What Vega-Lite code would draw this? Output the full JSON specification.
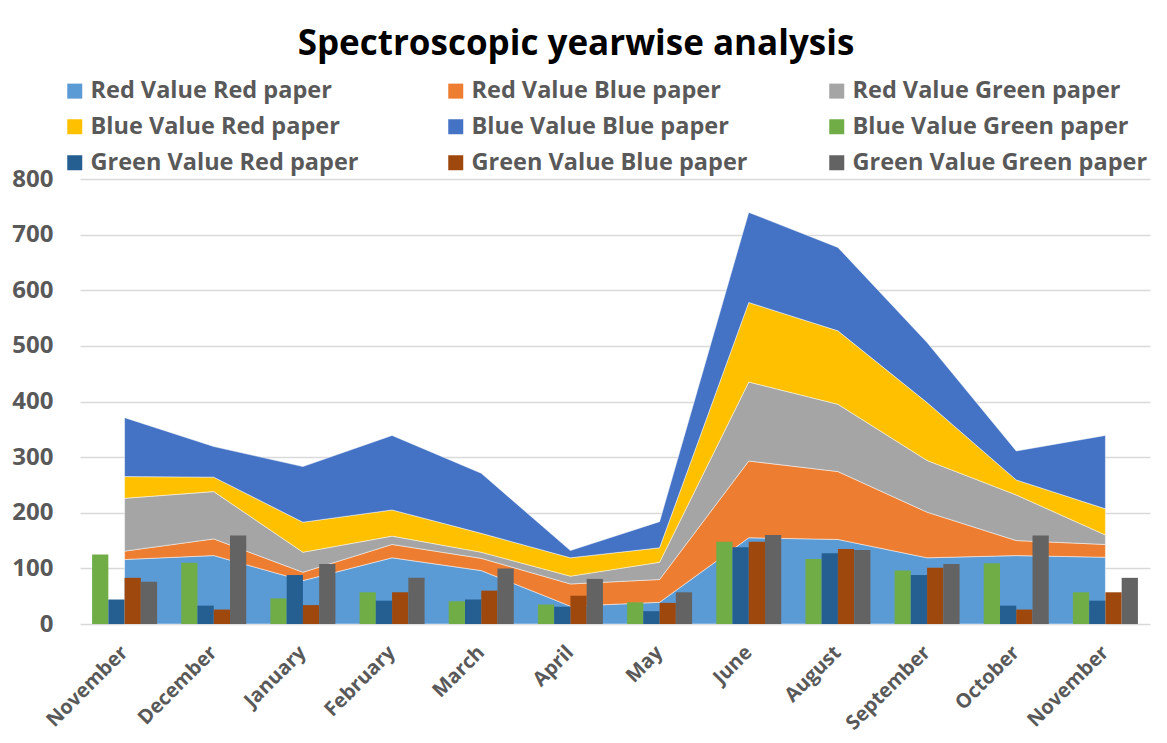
{
  "$schema": "https://vega.github.io/schema/vega-lite/v6.json",
  "width": 1070,
  "height": 445,
  "autosize": {"type": "none"},
  "padding": {"left": 80, "top": 179, "right": 17, "bottom": 119},
  "background": "#ffffff",
  "title": {
    "text": "Spectroscopic yearwise analysis",
    "font": "Open Sans",
    "fontSize": 35,
    "fontWeight": "bold",
    "color": "#000000",
    "anchor": "middle",
    "frame": "group",
    "baseline": "alphabetic",
    "offset": -11,
    "dx": -39
  },
  "datasets": {
    "areas": [
      {"m": "01 November", "s": "Red Value Red paper", "k": 1, "v": 116},
      {"m": "01 November", "s": "Red Value Blue paper", "k": 2, "v": 15},
      {"m": "01 November", "s": "Red Value Green paper", "k": 3, "v": 95},
      {"m": "01 November", "s": "Blue Value Red paper", "k": 4, "v": 39},
      {"m": "01 November", "s": "Blue Value Blue paper", "k": 5, "v": 106},
      {"m": "02 December", "s": "Red Value Red paper", "k": 1, "v": 123},
      {"m": "02 December", "s": "Red Value Blue paper", "k": 2, "v": 30},
      {"m": "02 December", "s": "Red Value Green paper", "k": 3, "v": 85},
      {"m": "02 December", "s": "Blue Value Red paper", "k": 4, "v": 26},
      {"m": "02 December", "s": "Blue Value Blue paper", "k": 5, "v": 55},
      {"m": "03 January", "s": "Red Value Red paper", "k": 1, "v": 78},
      {"m": "03 January", "s": "Red Value Blue paper", "k": 2, "v": 15},
      {"m": "03 January", "s": "Red Value Green paper", "k": 3, "v": 36},
      {"m": "03 January", "s": "Blue Value Red paper", "k": 4, "v": 54},
      {"m": "03 January", "s": "Blue Value Blue paper", "k": 5, "v": 100},
      {"m": "04 February", "s": "Red Value Red paper", "k": 1, "v": 119},
      {"m": "04 February", "s": "Red Value Blue paper", "k": 2, "v": 24},
      {"m": "04 February", "s": "Red Value Green paper", "k": 3, "v": 15},
      {"m": "04 February", "s": "Blue Value Red paper", "k": 4, "v": 47},
      {"m": "04 February", "s": "Blue Value Blue paper", "k": 5, "v": 134},
      {"m": "05 March", "s": "Red Value Red paper", "k": 1, "v": 96},
      {"m": "05 March", "s": "Red Value Blue paper", "k": 2, "v": 22},
      {"m": "05 March", "s": "Red Value Green paper", "k": 3, "v": 11},
      {"m": "05 March", "s": "Blue Value Red paper", "k": 4, "v": 34},
      {"m": "05 March", "s": "Blue Value Blue paper", "k": 5, "v": 108},
      {"m": "06 April", "s": "Red Value Red paper", "k": 1, "v": 32},
      {"m": "06 April", "s": "Red Value Blue paper", "k": 2, "v": 40},
      {"m": "06 April", "s": "Red Value Green paper", "k": 3, "v": 14},
      {"m": "06 April", "s": "Blue Value Red paper", "k": 4, "v": 33},
      {"m": "06 April", "s": "Blue Value Blue paper", "k": 5, "v": 13},
      {"m": "07 May", "s": "Red Value Red paper", "k": 1, "v": 39},
      {"m": "07 May", "s": "Red Value Blue paper", "k": 2, "v": 41},
      {"m": "07 May", "s": "Red Value Green paper", "k": 3, "v": 31},
      {"m": "07 May", "s": "Blue Value Red paper", "k": 4, "v": 26},
      {"m": "07 May", "s": "Blue Value Blue paper", "k": 5, "v": 47},
      {"m": "08 June", "s": "Red Value Red paper", "k": 1, "v": 155},
      {"m": "08 June", "s": "Red Value Blue paper", "k": 2, "v": 138},
      {"m": "08 June", "s": "Red Value Green paper", "k": 3, "v": 142},
      {"m": "08 June", "s": "Blue Value Red paper", "k": 4, "v": 143},
      {"m": "08 June", "s": "Blue Value Blue paper", "k": 5, "v": 162},
      {"m": "09 August", "s": "Red Value Red paper", "k": 1, "v": 152},
      {"m": "09 August", "s": "Red Value Blue paper", "k": 2, "v": 122},
      {"m": "09 August", "s": "Red Value Green paper", "k": 3, "v": 121},
      {"m": "09 August", "s": "Blue Value Red paper", "k": 4, "v": 132},
      {"m": "09 August", "s": "Blue Value Blue paper", "k": 5, "v": 150},
      {"m": "10 September", "s": "Red Value Red paper", "k": 1, "v": 119},
      {"m": "10 September", "s": "Red Value Blue paper", "k": 2, "v": 82},
      {"m": "10 September", "s": "Red Value Green paper", "k": 3, "v": 93},
      {"m": "10 September", "s": "Blue Value Red paper", "k": 4, "v": 104},
      {"m": "10 September", "s": "Blue Value Blue paper", "k": 5, "v": 108},
      {"m": "11 October", "s": "Red Value Red paper", "k": 1, "v": 123},
      {"m": "11 October", "s": "Red Value Blue paper", "k": 2, "v": 27},
      {"m": "11 October", "s": "Red Value Green paper", "k": 3, "v": 82},
      {"m": "11 October", "s": "Blue Value Red paper", "k": 4, "v": 27},
      {"m": "11 October", "s": "Blue Value Blue paper", "k": 5, "v": 52},
      {"m": "12 November", "s": "Red Value Red paper", "k": 1, "v": 120},
      {"m": "12 November", "s": "Red Value Blue paper", "k": 2, "v": 23},
      {"m": "12 November", "s": "Red Value Green paper", "k": 3, "v": 17},
      {"m": "12 November", "s": "Blue Value Red paper", "k": 4, "v": 47},
      {"m": "12 November", "s": "Blue Value Blue paper", "k": 5, "v": 132}
    ],
    "bars": [
      {"m": "01 November", "s": "Blue Value Green paper", "v": 125},
      {"m": "01 November", "s": "Green Value Red paper", "v": 44},
      {"m": "01 November", "s": "Green Value Blue paper", "v": 83},
      {"m": "01 November", "s": "Green Value Green paper", "v": 76},
      {"m": "02 December", "s": "Blue Value Green paper", "v": 110},
      {"m": "02 December", "s": "Green Value Red paper", "v": 33},
      {"m": "02 December", "s": "Green Value Blue paper", "v": 26},
      {"m": "02 December", "s": "Green Value Green paper", "v": 159},
      {"m": "03 January", "s": "Blue Value Green paper", "v": 46},
      {"m": "03 January", "s": "Green Value Red paper", "v": 88},
      {"m": "03 January", "s": "Green Value Blue paper", "v": 34},
      {"m": "03 January", "s": "Green Value Green paper", "v": 108},
      {"m": "04 February", "s": "Blue Value Green paper", "v": 57},
      {"m": "04 February", "s": "Green Value Red paper", "v": 42},
      {"m": "04 February", "s": "Green Value Blue paper", "v": 57},
      {"m": "04 February", "s": "Green Value Green paper", "v": 83},
      {"m": "05 March", "s": "Blue Value Green paper", "v": 41},
      {"m": "05 March", "s": "Green Value Red paper", "v": 44},
      {"m": "05 March", "s": "Green Value Blue paper", "v": 60},
      {"m": "05 March", "s": "Green Value Green paper", "v": 100},
      {"m": "06 April", "s": "Blue Value Green paper", "v": 35},
      {"m": "06 April", "s": "Green Value Red paper", "v": 31},
      {"m": "06 April", "s": "Green Value Blue paper", "v": 51},
      {"m": "06 April", "s": "Green Value Green paper", "v": 81},
      {"m": "07 May", "s": "Blue Value Green paper", "v": 39},
      {"m": "07 May", "s": "Green Value Red paper", "v": 23},
      {"m": "07 May", "s": "Green Value Blue paper", "v": 38},
      {"m": "07 May", "s": "Green Value Green paper", "v": 57},
      {"m": "08 June", "s": "Blue Value Green paper", "v": 148},
      {"m": "08 June", "s": "Green Value Red paper", "v": 138},
      {"m": "08 June", "s": "Green Value Blue paper", "v": 148},
      {"m": "08 June", "s": "Green Value Green paper", "v": 160},
      {"m": "09 August", "s": "Blue Value Green paper", "v": 117},
      {"m": "09 August", "s": "Green Value Red paper", "v": 127},
      {"m": "09 August", "s": "Green Value Blue paper", "v": 135},
      {"m": "09 August", "s": "Green Value Green paper", "v": 133},
      {"m": "10 September", "s": "Blue Value Green paper", "v": 96},
      {"m": "10 September", "s": "Green Value Red paper", "v": 88},
      {"m": "10 September", "s": "Green Value Blue paper", "v": 101},
      {"m": "10 September", "s": "Green Value Green paper", "v": 108},
      {"m": "11 October", "s": "Blue Value Green paper", "v": 109},
      {"m": "11 October", "s": "Green Value Red paper", "v": 33},
      {"m": "11 October", "s": "Green Value Blue paper", "v": 26},
      {"m": "11 October", "s": "Green Value Green paper", "v": 159},
      {"m": "12 November", "s": "Blue Value Green paper", "v": 57},
      {"m": "12 November", "s": "Green Value Red paper", "v": 42},
      {"m": "12 November", "s": "Green Value Blue paper", "v": 57},
      {"m": "12 November", "s": "Green Value Green paper", "v": 83}
    ]
  },
  "layer": [
    {
      "data": {"name": "areas"},
      "mark": {"type": "area", "stroke": "#ffffff", "strokeWidth": 0.6, "strokeOpacity": 0.8},
      "encoding": {
        "x": {
          "field": "m",
          "type": "ordinal",
          "bandPosition": 0.5,
          "scale": {"type": "band", "paddingInner": 0.271, "paddingOuter": 0.1355},
          "axis": {
            "title": null,
            "labelAngle": -45,
            "labelAlign": "right",
            "labelBaseline": "middle",
            "labelFont": "Open Sans",
            "labelFontSize": 20,
            "labelFontWeight": "bold",
            "labelColor": "#595959",
            "labelPadding": 25,
            "labelOverlap": false,
            "labelExpr": "slice(datum.label, 3)",
            "ticks": false,
            "domain": false,
            "grid": false
          }
        },
        "y": {
          "field": "v",
          "type": "quantitative",
          "stack": "zero",
          "scale": {"domain": [0, 800], "nice": false},
          "axis": {
            "title": null,
            "values": [0, 100, 200, 300, 400, 500, 600, 700, 800],
            "ticks": false,
            "domain": false,
            "labelFont": "Open Sans",
            "labelFontSize": 24,
            "labelFontWeight": "bold",
            "labelColor": "#595959",
            "labelPadding": 27,
            "grid": true,
            "gridColor": "#d9d9d9",
            "gridWidth": 1.5
          }
        },
        "color": {
          "field": "s",
          "type": "nominal",
          "scale": {
            "domain": ["Red Value Red paper", "Red Value Blue paper", "Red Value Green paper", "Blue Value Red paper", "Blue Value Blue paper", "Blue Value Green paper", "Green Value Red paper", "Green Value Blue paper", "Green Value Green paper"],
            "range": ["#5b9bd5", "#ed7d31", "#a5a5a5", "#ffc000", "#4472c4", "#70ad47", "#255e91", "#9e480e", "#636363"]
          },
          "legend": {
            "title": null,
            "orient": "none",
            "legendX": -17,
            "legendY": -100,
            "direction": "horizontal",
            "columns": 3,
            "gridAlign": "all",
            "columnPadding": 58,
            "rowPadding": 11,
            "padding": 0,
            "symbolType": "square",
            "symbolSize": 225,
            "symbolStrokeWidth": 0,
            "symbolOpacity": 1,
            "labelFont": "Open Sans",
            "labelFontSize": 23.5,
            "labelFontWeight": "bold",
            "labelColor": "#595959",
            "labelOffset": 4,
            "labelLimit": 500
          }
        },
        "order": {"field": "k", "type": "quantitative"}
      }
    },
    {
      "data": {"name": "bars"},
      "mark": {"type": "bar"},
      "encoding": {
        "x": {"field": "m", "type": "ordinal"},
        "xOffset": {
          "field": "s",
          "type": "nominal",
          "scale": {"domain": ["Blue Value Green paper", "Green Value Red paper", "Green Value Blue paper", "Green Value Green paper"], "paddingInner": 0, "paddingOuter": 0}
        },
        "y": {"field": "v", "type": "quantitative", "stack": null},
        "color": {"field": "s", "type": "nominal"}
      }
    }
  ],
  "config": {
    "view": {"stroke": null}
  }
}
